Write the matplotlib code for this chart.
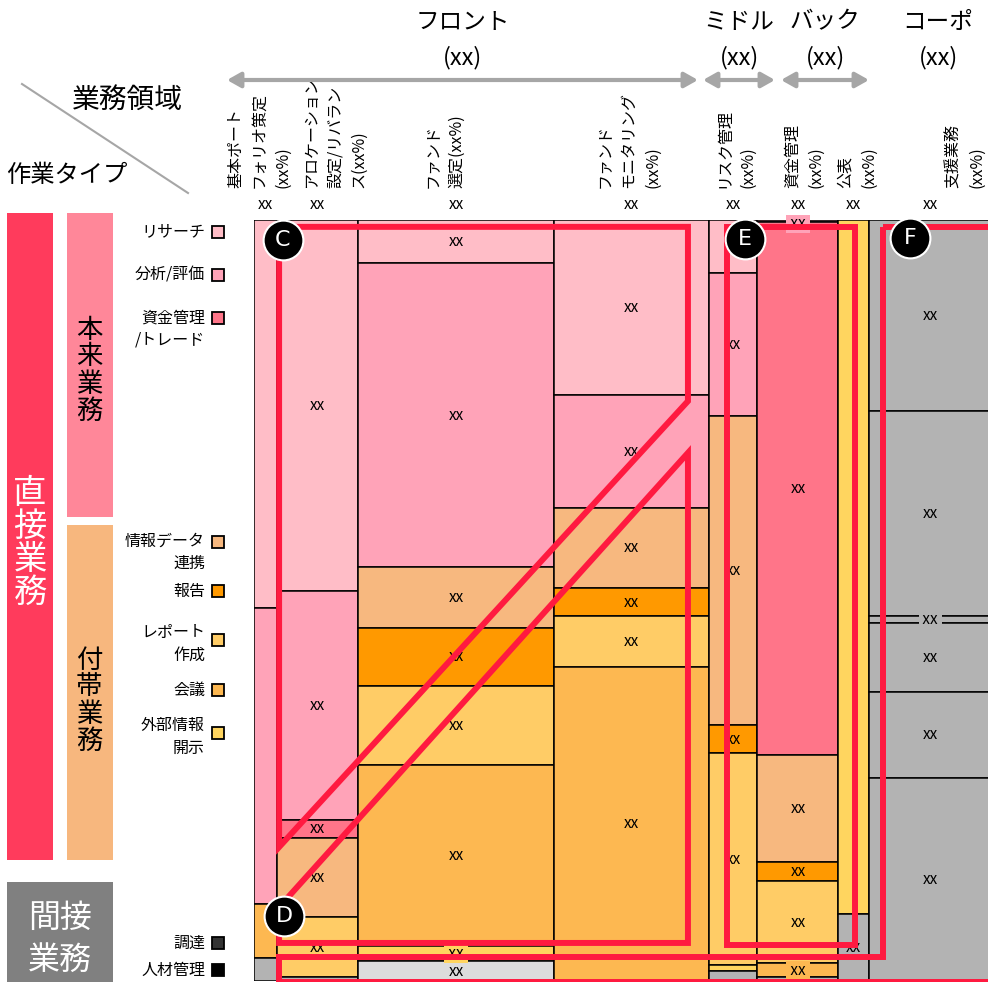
import matplotlib
matplotlib.use("Agg")
import matplotlib.pyplot as plt
from matplotlib.patches import Rectangle, Polygon

plt.rcParams['font.family'] = ['Noto Sans CJK JP', 'DejaVu Sans']

# 業務領域 (列) と横幅の構成比 (%)
area_names = [
    ['基本ポート', 'フォリオ策定', '(xx%)'],
    ['アロケーション', '設定/リバラン', 'ス(xx%)'],
    ['ファンド', '選定(xx%)'],
    ['ファンド', 'モニタリング', '(xx%)'],
    ['リスク管理', '(xx%)'],
    ['資金管理', '(xx%)'],
    ['公表', '(xx%)'],
    ['支援業務', '(xx%)'],
]
area_widths = [3.1, 11.0, 26.6, 20.9, 6.6, 11.0, 4.1, 16.7]
area_totals = ['xx'] * 8

# 各列の作業タイプ構成 (上から, 列内 %)
col_types = [
    ['R', 'A', 'M', 'G'],
    ['R', 'A', 'T', 'D', 'P', 'G'],
    ['R', 'A', 'D', 'H', 'P', 'M', 'E', 'L'],
    ['R', 'A', 'D', 'H', 'P', 'M'],
    ['R', 'A', 'D', 'H', 'P', 'E', 'G'],
    ['A', 'T', 'D', 'H', 'P', 'M', 'G'],
    ['E', 'G'],
    ['G', 'G', 'G', 'G', 'G', 'G'],
]
col_shares = [
    [51.0, 38.9, 7.1, 3.0],
    [48.7, 30.1, 2.4, 10.4, 7.9, 0.5],
    [5.7, 39.9, 8.0, 7.6, 10.4, 23.8, 2.0, 2.6],
    [23.0, 14.8, 10.6, 3.7, 6.6, 41.3],
    [7.0, 18.7, 40.7, 3.7, 27.8, 0.8, 1.3],
    [0.3, 70.0, 14.1, 2.4, 10.9, 1.8, 0.5],
    [91.2, 8.8],
    [25.1, 26.9, 0.9, 9.1, 11.3, 26.7],
]
col_labels = [
    ['', '', '', ''],
    ['xx', 'xx', 'xx', 'xx', 'xx', ''],
    ['xx'] * 8,
    ['xx'] * 6,
    ['', 'xx', 'xx', 'xx', 'xx', '', ''],
    ['xx', 'xx', 'xx', 'xx', 'xx', 'xx', ''],
    ['', 'xx'],
    ['xx'] * 6,
]

cell_colors = {
    'R': '#FFBDC7', 'A': '#FFA3B8', 'T': '#FF7589', 'D': '#F7B87F',
    'H': '#FF9900', 'P': '#FFCC66', 'M': '#FDB851', 'E': '#FFD55F',
    'G': '#B3B3B3', 'L': '#DCDCDC',
}

# 凡例
legend_names = ['リサーチ', '分析/評価', '資金管理\n/トレード', '情報データ\n連携', '報告',
                'レポート\n作成', '会議', '外部情報\n開示', '調達', '人材管理']
legend_colors = ['#FFBDC7', '#FFA3B8', '#FF7589', '#F7B87F', '#FF9900',
                 '#FFCC66', '#FDB851', '#FFD55F', '#333333', '#000000']
legend_text_y = [232, 275, 329, 552, 591, 644, 690, 737, 943, 970]
legend_box_y = [232, 275, 318, 542, 591, 640, 690, 733, 943, 970]

# 業務領域グループ
groups = ['フロント', 'ミドル', 'バック', 'コーポ']
group_totals = ['(xx)'] * 4
group_spans = [(227, 698), (703, 775), (781, 869), (876, 1000)]

# 強調枠 (チャート座標: 横 %, 縦 %)
highlights = {
    'C': [(3.4, 0.9), (58.8, 0.9), (58.8, 23.8), (3.4, 82.4)],
    'D': [(3.4, 90.3), (58.8, 30.6), (58.8, 95.0), (3.4, 95.0)],
    'E': [(64.1, 0.9), (81.4, 0.9), (81.4, 95.3), (64.1, 95.3)],
    'F': [(85.2, 0.9), (99.6, 0.9), (99.6, 100.1), (3.4, 100.1), (3.4, 96.8), (85.2, 96.8)],
}
badges = {'C': (3.9, 2.6), 'D': (4.1, 91.5), 'E': (66.5, 2.5), 'F': (88.9, 2.4)}

fig = plt.figure(figsize=(9.88, 9.82), dpi=100)
ov = fig.add_axes([0, 0, 1, 1])
ov.set_xlim(0, 988)
ov.set_ylim(982, 0)
ov.axis('off')

ax = fig.add_axes([254 / 988, 1 / 982, 738 / 988, 761 / 982])
ax.set_xlim(0, 100)
ax.set_ylim(100, 0)
ax.axis('off')

# マリメッコ本体
x0 = 0
for w, types, shares, labels, total in zip(area_widths, col_types, col_shares,
                                           col_labels, area_totals):
    y0 = 0
    for t, s, lab in zip(types, shares, labels):
        ax.bar(x0, s, width=w, bottom=y0, align='edge', color=cell_colors[t],
               edgecolor='black', linewidth=1.1, zorder=2)
        if lab:
            if s < 2.2:
                # 細いセルは背景付きで罫線の上に表示
                ax.text(x0 + w / 2, max(y0 + s / 2, 0.5), f' {lab} ', ha='center',
                        va='center', fontsize=11, zorder=4,
                        bbox=dict(boxstyle='square,pad=0.05', fc=cell_colors[t], ec='none'))
            else:
                ax.text(x0 + w / 2, y0 + s / 2, lab, ha='center', va='center',
                        fontsize=11, zorder=4)
        y0 += s
    ax.text(x0 + w / 2, -2.0, total, ha='center', va='center', fontsize=11,
            clip_on=False)
    x0 += w

# 強調枠とバッジ
for key, pts in highlights.items():
    ax.add_patch(Polygon(pts, closed=True, fill=False, edgecolor='#FF1A40',
                         linewidth=4.3, joinstyle='miter', clip_on=False, zorder=5))
for key, (bx, by) in badges.items():
    ax.scatter([bx], [by], s=820, color='black', edgecolors='white',
               linewidths=1.5, zorder=6, clip_on=False)
    ax.text(bx, by, key, color='white', fontsize=16, ha='center', va='center',
            family='DejaVu Sans', zorder=7)

# 列見出し (縦書き)
name_x = [259, 335, 445, 629, 736, 804, 857, 965]
for cx, lines in zip(name_x, area_names):
    n = len(lines)
    for j, line in enumerate(lines):
        ov.text(cx + (j - (n - 1) / 2) * 23.5, 188, line, rotation=90,
                ha='center', va='bottom', fontsize=11.5)

# グループ見出しと矢印
for name, total, (a, b) in zip(groups, group_totals, group_spans):
    c = (a + b) / 2
    ov.text(c, 22, name, ha='center', va='center', fontsize=17)
    ov.text(c, 58, total, ha='center', va='center', fontsize=17)
    ov.annotate('', xy=(b, 80), xytext=(a, 80),
                arrowprops=dict(arrowstyle='<|-|>,head_length=0.8,head_width=0.45',
                                color='#A6A6A6', lw=3, shrinkA=0, shrinkB=0))

# 左上の見出し
ov.plot([22, 188], [84, 193], color='#A6A6A6', lw=1.5)
ov.text(127, 100, '業務領域', ha='center', va='center', fontsize=20)
ov.text(67, 175, '作業タイプ', ha='center', va='center', fontsize=17.5)

# 左側の分類帯
bands = [
    ((7, 213), 46, 647, '#FF3B5C'),
    ((67, 213), 46, 304, '#FF8799'),
    ((67, 525), 46, 335, '#F7B77E'),
    ((7, 882), 106, 100, '#808080'),
]
for xy, w, h, col in bands:
    ov.add_patch(Rectangle(xy, w, h, facecolor=col, edgecolor='none'))

for i, ch in enumerate('直接業務'):
    ov.text(30, 493 + i * 33, ch, ha='center', va='center', fontsize=24, color='white')
for i, ch in enumerate('本来業務'):
    ov.text(89, 330 + i * 27, ch, ha='center', va='center', fontsize=19, color='black')
for i, ch in enumerate('付帯業務'):
    ov.text(89, 660 + i * 27, ch, ha='center', va='center', fontsize=19, color='black')
ov.text(60, 918, '間接', ha='center', va='center', fontsize=23, color='white')
ov.text(60, 960, '業務', ha='center', va='center', fontsize=23, color='white')

# 凡例
for name, col, ty, sy in zip(legend_names, legend_colors, legend_text_y, legend_box_y):
    ov.text(205, ty, name, ha='right', va='center', fontsize=11.5,
            multialignment='right', linespacing=1.4)
    ov.add_patch(Rectangle((212, sy - 6), 12, 12, facecolor=col,
                           edgecolor='black', linewidth=1.3))

fig.savefig('out.png', dpi=100)
